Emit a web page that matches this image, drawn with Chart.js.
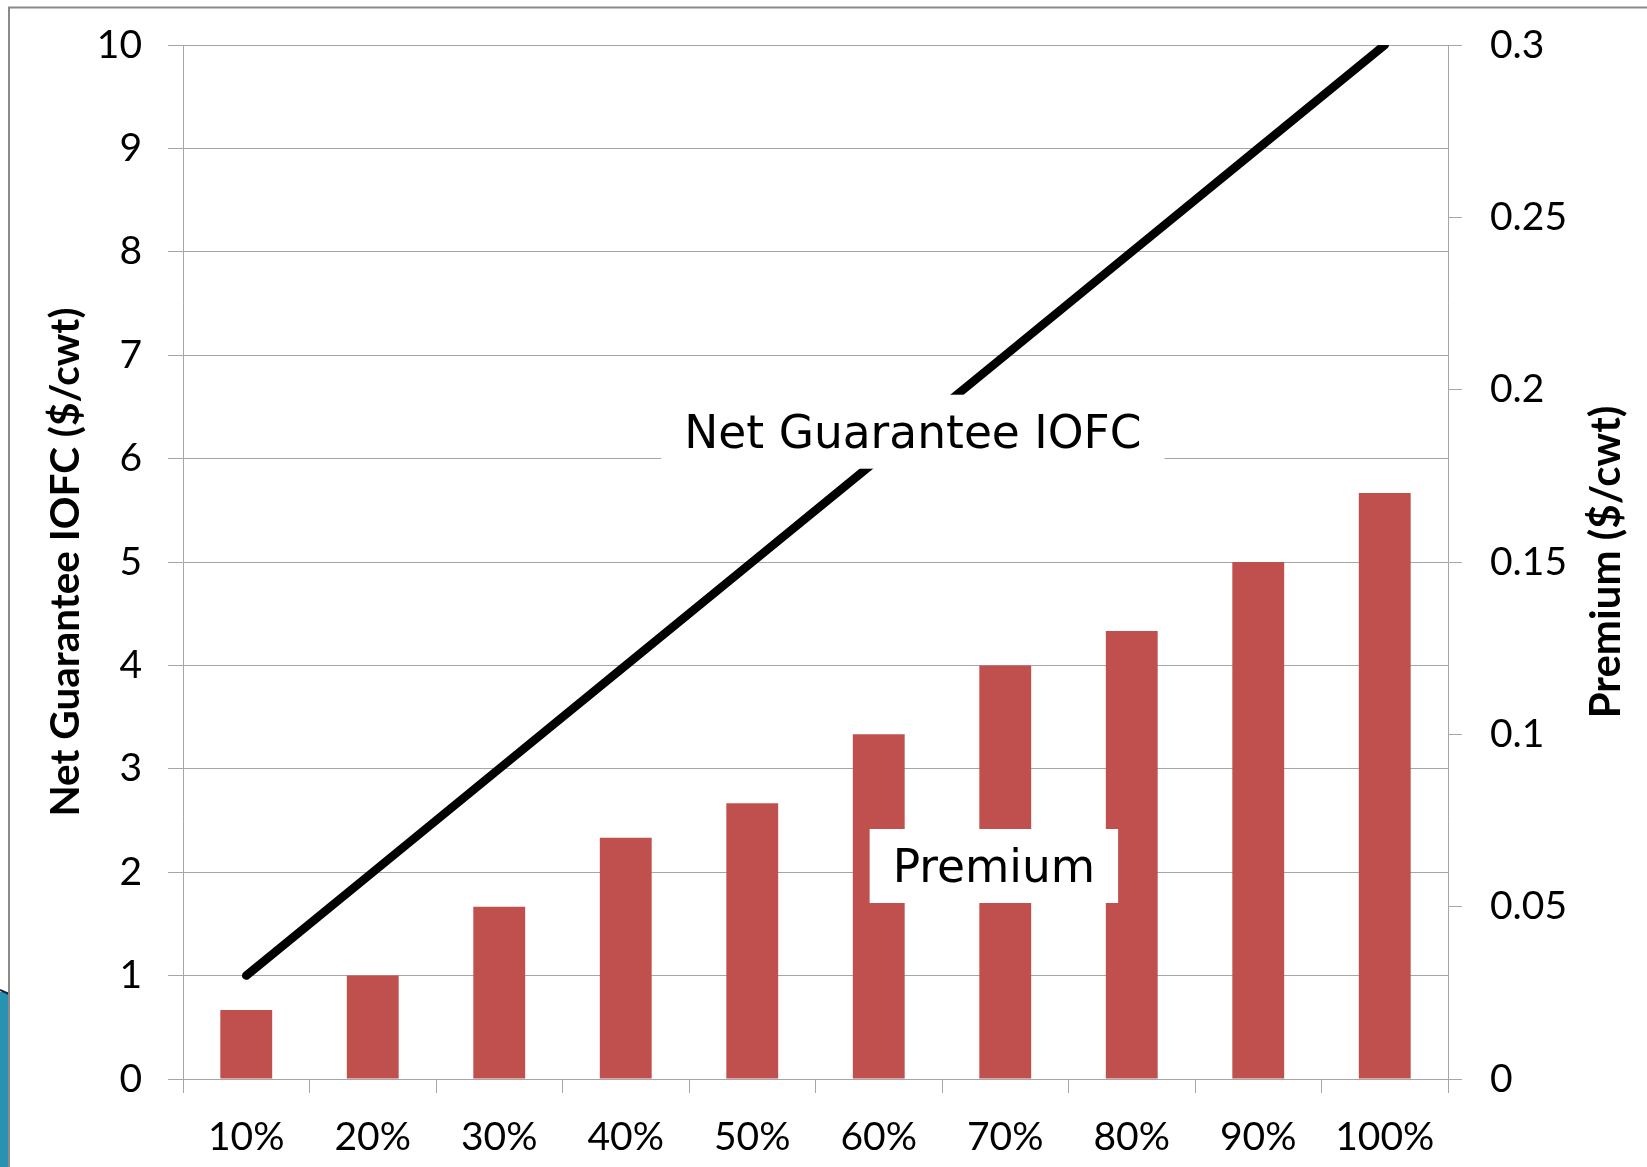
<!DOCTYPE html>
<html>
<head>
<meta charset="utf-8">
<script src="https://cdn.jsdelivr.net/npm/chart.js@4/dist/chart.umd.min.js"></script>
<style>
  html, body { margin: 0; padding: 0; background: #fff; }
  canvas { display: block; }
</style>
</head>
<body>
<canvas id="iofcChart" width="1647" height="1167"></canvas>
<script>
const coverageLevels = ['10%', '20%', '30%', '40%', '50%', '60%', '70%', '80%', '90%', '100%'];
const netGuarantee = [1, 2, 3, 4, 5, 6, 7, 8, 9, 10];
const premium = [0.02, 0.03, 0.05, 0.07, 0.08, 0.10, 0.12, 0.13, 0.15, 0.17];

// text boxes placed on the chart (category index, left-axis value)
const boxLabels = [
    { text: 'Net Guarantee IOFC', x: 5.27, y: 6.26 },
    { text: 'Premium', x: 5.91, y: 2.06 }
];

const gridGray = '#a6a6a6';
const tickFont = { family: 'Lato', size: 39 };

// frame, decoration, right title and text boxes
const extras = {
    id: 'extras',
    beforeDraw(chart) {
        const c = chart.ctx;
        c.save();
        c.fillStyle = '#fff';
        c.fillRect(0, 0, chart.width, chart.height);
        // teal slide decoration at lower left
        c.fillStyle = '#2793b1';
        c.fillRect(0, 992, 9, chart.height - 992);
        c.strokeStyle = '#123';
        c.lineWidth = 2;
        c.beginPath(); c.moveTo(0, 990); c.lineTo(9, 994); c.stroke();
        // frame
        c.strokeStyle = '#8a8a8a';
        c.lineWidth = 2;
        c.beginPath();
        c.moveTo(9, chart.height);
        c.lineTo(9, 7.5);
        c.lineTo(chart.width, 7.5);
        c.stroke();
        c.restore();
    },
    afterDraw(chart) {
        const c = chart.ctx;
        const area = chart.chartArea;
        c.save();
        // right axis title, reading bottom to top
        c.translate(1606, (area.top + area.bottom) / 2);
        c.rotate(-Math.PI / 2);
        c.font = 'bold 42px Lato';
        c.fillStyle = '#000';
        c.textAlign = 'center';
        c.textBaseline = 'middle';
        c.fillText('Premium ($/cwt)', 0, 0);
        c.restore();

        const xs = chart.scales.x, ys = chart.scales.y;
        c.save();
        c.font = '45.5px "DejaVu Sans"';
        c.textAlign = 'center';
        c.textBaseline = 'alphabetic';
        boxLabels.forEach(lb => {
            const cx = xs.getPixelForValue(lb.x);
            const cy = ys.getPixelForValue(lb.y);
            const w = c.measureText(lb.text).width + 46;
            const h = 74;
            c.fillStyle = '#fff';
            c.fillRect(cx - w / 2, cy - h / 2, w, h);
            c.fillStyle = '#000';
            c.fillText(lb.text, cx, cy + 16);
        });
        c.restore();
    }
};

// fixed axis sizes; drop the tick-padding overhang so the plot keeps its top
function fixWidth(w) {
    return scale => {
        scale.width = w;
        scale.paddingTop = 0;
        scale.paddingBottom = 0;
    };
}

const ctx = document.getElementById('iofcChart').getContext('2d');

const chart = new Chart(ctx, {
    data: {
        labels: coverageLevels,
        datasets: [
            {
                type: 'line',
                label: 'Net Guarantee IOFC',
                data: netGuarantee,
                yAxisID: 'y',
                borderColor: '#000',
                borderWidth: 8.5,
                borderCapStyle: 'round',
                pointRadius: 0,
                tension: 0,
                order: 0
            },
            {
                type: 'bar',
                label: 'Premium',
                data: premium,
                yAxisID: 'y1',
                backgroundColor: '#c0504d',
                categoryPercentage: 1,
                barPercentage: 0.41,
                order: 1
            }
        ]
    },
    options: {
        responsive: false,
        animation: false,
        devicePixelRatio: 1,
        layout: { padding: { left: 9, top: 45, right: 0, bottom: 0 } },
        plugins: {
            legend: { display: false },
            tooltip: { enabled: false }
        },
        scales: {
            x: {
                offset: true,
                grid: {
                    offset: true,
                    drawOnChartArea: false,
                    color: gridGray,
                    tickLength: 14
                },
                border: { color: gridGray },
                ticks: { font: tickFont, color: '#000', padding: 21, maxRotation: 0 },
                afterFit(scale) { scale.height = 88; }
            },
            y: {
                position: 'left',
                min: 0,
                max: 10,
                ticks: { stepSize: 1, font: tickFont, color: '#000', padding: 26 },
                grid: { color: gridGray, tickLength: 15 },
                border: { color: gridGray },
                title: {
                    display: true,
                    text: 'Net Guarantee IOFC ($/cwt)',
                    font: { family: 'Lato', size: 40.5, weight: 'bold' },
                    color: '#000',
                    padding: { top: 33 }
                },
                afterFit: fixWidth(174)
            },
            y1: {
                position: 'right',
                min: 0,
                max: 0.3,
                ticks: {
                    stepSize: 0.05,
                    font: tickFont,
                    color: '#000',
                    padding: 28,
                    callback: v => String(Number(v.toFixed(2)))
                },
                grid: { drawOnChartArea: false, color: gridGray, tickLength: 14 },
                border: { color: gridGray },
                afterFit: fixWidth(199)
            }
        }
    },
    plugins: [extras]
});
</script>
</body>
</html>
